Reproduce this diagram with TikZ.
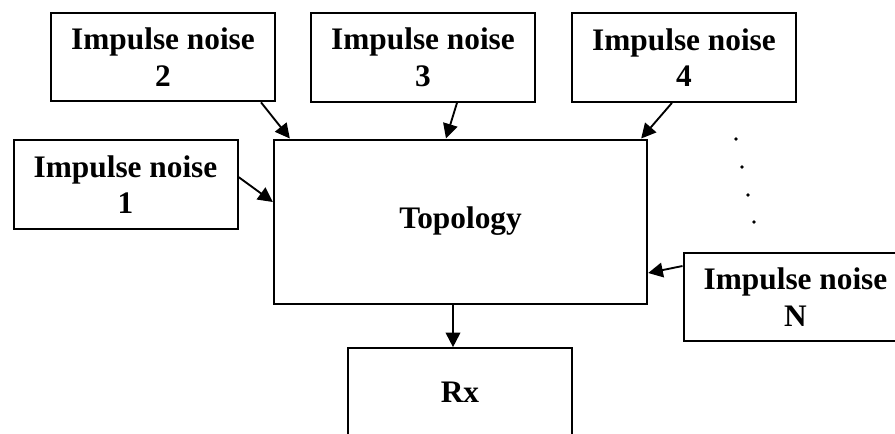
\documentclass[tikz,border=0pt]{standalone}
\usepackage{fontspec}
\setmainfont{Liberation Serif}
\usetikzlibrary{arrows.meta}

\tikzset{every picture/.style={line width=1.5pt}}
\tikzset{
  blockbox/.style={draw, rectangle, inner sep=0pt, align=center,
    minimum width=168pt, minimum height=66.5pt,
    font=\fontsize{23.5}{27.5}\selectfont\bfseries},
  feed/.style={-{Triangle[length=11pt,width=11pt]}, line width=1.4pt}
}

\begin{document}
\begin{tikzpicture}[x=0.75pt,y=0.75pt,yscale=-1,xscale=1]
	\useasboundingbox (0,0) rectangle (895,433);
	\clip (0,0) rectangle (895,433);

	% noise sources
	\node [blockbox] (noise1) at (125.5,184.5) {Impulse noise\\1};
	\node [blockbox] (noise2) at (163,57) {Impulse noise\\2};
	\node [blockbox] (noise3) at (423,57.5) {Impulse noise\\3};
	\node [blockbox] (noise4) at (684,57.5) {Impulse noise\\4};
	\node [blockbox] (noiseN) at (795.5,297) {Impulse noise\\N};

	% channel and receiver
	\node [blockbox, minimum width=280pt, minimum height=123pt] (topo) at (460.5,221.5) {Topology};
	\node [blockbox] (rx) at (460,392.5) {Rx};

	% dots between 4 and N
	\foreach \px/\py in {736/139, 742/167, 748/195, 754/222}
		\fill (\px,\py) circle (1.8);

	% arrows into the topology
	\draw [feed] ([shift={(-15,0)}]noise2.south east) -- ([shift={(17,0)}]topo.north west);
	\draw [feed] ([shift={(0,-7.5)}]noise1.east) -- ([shift={(0,-19.5)}]topo.west);
	\draw [feed] ([shift={(34,0)}]noise3.south) -- ([shift={(-14.5,0)}]topo.north);
	\draw [feed] ([shift={(-12,0)}]noise4.south) -- ([shift={(-7,0)}]topo.north east);
	\draw [feed] ([shift={(0,-31)}]noiseN.west) -- ([shift={(0,51.5)}]topo.east);
	% output
	\draw [feed] ([shift={(-7.5,0)}]topo.south) -- ([shift={(-7,0)}]rx.north);

\end{tikzpicture}
\end{document}
